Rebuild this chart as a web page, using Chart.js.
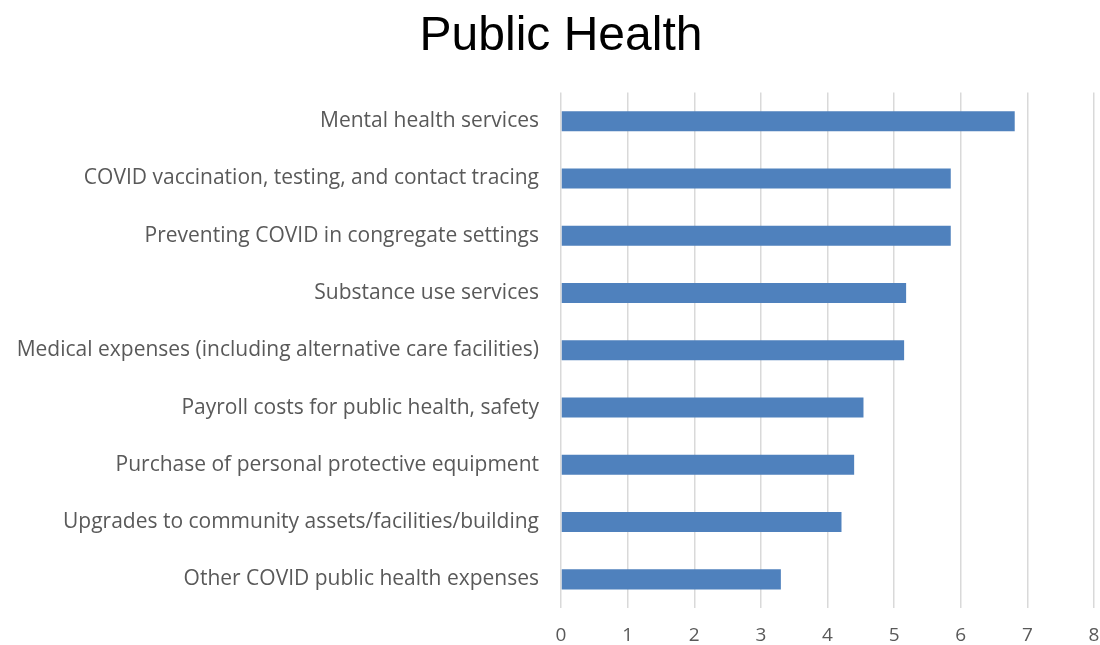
<!DOCTYPE html>
<html>
<head>
<meta charset="utf-8">
<script src="https://cdn.jsdelivr.net/npm/chart.js@4.4.1/dist/chart.umd.min.js"></script>
<style>
  body { margin: 0; background: #fff; }
</style>
</head>
<body>
<canvas id="public-health-chart" width="1100" height="645"></canvas>
<script>
  const categories = [
    'Mental health services',
    'COVID vaccination, testing, and contact tracing',
    'Preventing COVID in congregate settings',
    'Substance use services',
    'Medical expenses (including alternative care facilities)',
    'Payroll costs for public health, safety',
    'Purchase of personal protective equipment',
    'Upgrades to community assets/facilities/building',
    'Other COVID public health expenses',
  ];
  const scores = [6.81, 5.85, 5.85, 5.18, 5.15, 4.54, 4.40, 4.21, 3.30];
  const axisMin = 0;
  const axisMax = 8;

  const ctx = document.getElementById('public-health-chart').getContext('2d');
  const labelFont = { family: '"Open Sans", sans-serif', size: 21 };

  // uneven side padding nudges the title centre over the plot, like the original
  const padLeft = 10;
  const padRight = -12;

  const publicHealthChart = new Chart(ctx, {
    type: 'bar',
    data: {
      labels: categories,
      datasets: [
        {
          data: scores,
          backgroundColor: '#4f81bd',
          borderWidth: 0,
          barPercentage: 0.35,
          categoryPercentage: 1,
        },
      ],
    },
    options: {
      indexAxis: 'y',
      responsive: false,
      animation: false,
      layout: { padding: { left: padLeft, right: padRight, top: 0, bottom: 0 } },
      plugins: {
        legend: { display: false },
        tooltip: { enabled: false },
        title: {
          display: true,
          text: 'Public Health',
          color: '#000',
          font: { family: '"Liberation Sans", Arial, sans-serif', size: 48, weight: 'normal' },
          padding: { top: 8, bottom: 27 },
        },
      },
      scales: {
        x: {
          min: axisMin,
          max: axisMax,
          ticks: { stepSize: 1, color: '#595959', font: { family: '"Open Sans", sans-serif', size: 19 }, padding: 16 },
          grid: { color: '#d9d9d9', lineWidth: 1.5, drawTicks: false },
          border: { display: false },
          afterFit(scale) {
            scale.height = 37;
            scale.paddingRight = 6;
          },
        },
        y: {
          ticks: { color: '#595959', font: labelFont, padding: 22 },
          grid: { display: false, drawTicks: false },
          border: { display: false },
          afterFit(scale) { scale.width = 561 - padLeft; },
        },
      },
    },
  });
</script>
</body>
</html>
